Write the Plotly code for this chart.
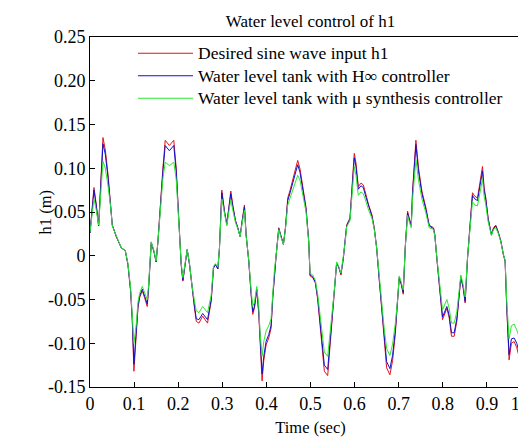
import plotly.graph_objects as go

# Time samples (s)
time_s = [
    0.000, 0.009, 0.0143, 0.0196, 0.0294, 0.0347, 0.0408, 0.0468, 0.0506, 0.0596,
    0.071, 0.080, 0.086, 0.092, 0.0959, 0.0996, 0.105, 0.1087, 0.1125, 0.1185,
    0.1238, 0.1298, 0.1329, 0.1389, 0.1449, 0.150, 0.154, 0.1578, 0.1653, 0.1706,
    0.180, 0.190, 0.1955, 0.2008, 0.2068, 0.2106, 0.2159, 0.2204, 0.2257, 0.231,
    0.237, 0.241, 0.247, 0.2555, 0.2665, 0.2748, 0.280, 0.2846, 0.290, 0.2936,
    0.2989, 0.305, 0.3102, 0.3148, 0.3193, 0.3238, 0.3299, 0.3351, 0.3404, 0.345,
    0.3502, 0.354, 0.360, 0.3653, 0.3691, 0.3729, 0.3782, 0.3827, 0.3857, 0.3902,
    0.394, 0.3993, 0.4053, 0.4106, 0.4144, 0.4182, 0.422, 0.428, 0.4333, 0.4386,
    0.4431, 0.4484, 0.4537, 0.4597, 0.4657, 0.471, 0.4763, 0.4823, 0.4899, 0.4959,
    0.499, 0.505, 0.511, 0.5163, 0.5216, 0.5261, 0.5314, 0.539, 0.5442, 0.5488,
    0.554, 0.5593, 0.5639, 0.5691, 0.5744, 0.579, 0.582, 0.5865, 0.5895, 0.594,
    0.5993, 0.6031, 0.6084, 0.6144, 0.6197, 0.6258, 0.6318, 0.6393, 0.6446, 0.650,
    0.656, 0.662, 0.6673, 0.6726, 0.6801, 0.6861, 0.6922, 0.6975, 0.7012, 0.7058,
    0.7103, 0.7148, 0.7201, 0.7239, 0.7284, 0.7314, 0.7352, 0.739, 0.745, 0.7526,
    0.7616, 0.7692, 0.779, 0.782, 0.7865, 0.7918, 0.7971, 0.7994, 0.8092, 0.8145,
    0.8197, 0.8258, 0.8318, 0.8371, 0.8409, 0.8462, 0.8507, 0.856, 0.862, 0.8673,
    0.8726, 0.8786, 0.8847, 0.890, 0.8937, 0.8975, 0.9028, 0.9103, 0.9149, 0.9201,
    0.9254, 0.9315, 0.9375, 0.9413, 0.945, 0.9503, 0.9556, 0.9617, 0.9677, 0.973,
    0.9783, 0.9843, 0.9918, 1.000,
]

# Desired sine wave input h1 (m)
desired_h1 = [
    0.026, 0.078, 0.058, 0.034, 0.135, 0.121, 0.093, 0.062, 0.035, 0.022,
    0.009, 0.006, -0.010, -0.040, -0.075, -0.132, -0.090, -0.060, -0.048, -0.040,
    -0.048, -0.058, -0.037, 0.015, 0.005, -0.007, 0.016, 0.047, 0.100, 0.132,
    0.126, 0.132, 0.100, 0.047, -0.010, -0.029, -0.006, 0.007, -0.010, -0.037,
    -0.060, -0.075, -0.077, -0.069, -0.077, -0.052, -0.014, -0.010, -0.015, 0.009,
    0.075, 0.051, 0.036, 0.055, 0.074, 0.058, 0.040, 0.032, 0.022, 0.040,
    0.058, 0.024, -0.006, -0.044, -0.067, -0.060, -0.039, -0.067, -0.105, -0.143,
    -0.120, -0.102, -0.094, -0.083, -0.048, -0.018, 0.000, 0.032, 0.022, 0.013,
    0.032, 0.066, 0.075, 0.087, 0.100, 0.109, 0.099, 0.081, 0.055, 0.017,
    -0.023, -0.025, -0.031, -0.050, -0.079, -0.105, -0.132, -0.137, -0.105, -0.075,
    -0.044, -0.008, -0.013, -0.022, -0.003, 0.017, 0.035, 0.040, 0.043, 0.077,
    0.117, 0.106, 0.079, 0.083, 0.081, 0.070, 0.058, 0.047, 0.032, 0.009,
    -0.029, -0.067, -0.098, -0.128, -0.136, -0.120, -0.090, -0.056, -0.025, -0.033,
    -0.044, 0.009, 0.051, 0.043, 0.035, 0.074, 0.110, 0.132, 0.100, 0.074,
    0.055, 0.035, 0.032, 0.024, -0.003, -0.033, -0.056, -0.073, -0.060, -0.071,
    -0.092, -0.092, -0.075, -0.044, -0.025, -0.037, -0.054, -0.003, 0.039, 0.072,
    0.068, 0.066, 0.085, 0.102, 0.078, 0.066, 0.043, 0.024, 0.032, 0.035,
    0.028, 0.017, 0.001, -0.006, -0.060, -0.119, -0.100, -0.098, -0.105, -0.115,
    -0.126, -0.083, -0.056, -0.033,
]

# Water level tank with H-infinity controller (m)
hinf_h1 = [
    0.026, 0.075, 0.057, 0.034, 0.128, 0.116, 0.090, 0.061, 0.035, 0.022,
    0.009, 0.006, -0.010, -0.039, -0.072, -0.124, -0.087, -0.058, -0.046, -0.038,
    -0.046, -0.055, -0.036, 0.015, 0.005, -0.007, 0.016, 0.046, 0.096, 0.126,
    0.120, 0.126, 0.096, 0.046, -0.010, -0.028, -0.006, 0.007, -0.010, -0.036,
    -0.058, -0.072, -0.073, -0.066, -0.073, -0.050, -0.014, -0.010, -0.015, 0.009,
    0.072, 0.050, 0.036, 0.054, 0.071, 0.056, 0.040, 0.032, 0.022, 0.039,
    0.056, 0.024, -0.006, -0.043, -0.064, -0.058, -0.038, -0.064, -0.100, -0.135,
    -0.115, -0.098, -0.090, -0.080, -0.047, -0.018, 0.000, 0.031, 0.022, 0.013,
    0.031, 0.063, 0.072, 0.083, 0.096, 0.104, 0.095, 0.078, 0.053, 0.017,
    -0.022, -0.024, -0.030, -0.048, -0.076, -0.100, -0.125, -0.130, -0.100, -0.072,
    -0.043, -0.008, -0.013, -0.021, -0.003, 0.017, 0.034, 0.039, 0.042, 0.074,
    0.112, 0.102, 0.076, 0.080, 0.078, 0.067, 0.056, 0.045, 0.031, 0.009,
    -0.028, -0.064, -0.094, -0.121, -0.129, -0.114, -0.086, -0.054, -0.025, -0.032,
    -0.042, 0.009, 0.049, 0.042, 0.034, 0.071, 0.105, 0.127, 0.096, 0.071,
    0.053, 0.034, 0.031, 0.023, -0.003, -0.032, -0.054, -0.070, -0.058, -0.068,
    -0.088, -0.088, -0.072, -0.043, -0.024, -0.036, -0.052, -0.003, 0.038, 0.069,
    0.065, 0.063, 0.081, 0.097, 0.075, 0.064, 0.042, 0.024, 0.031, 0.034,
    0.027, 0.017, 0.001, -0.006, -0.058, -0.113, -0.095, -0.094, -0.100, -0.110,
    -0.120, -0.080, -0.054, -0.032,
]

# Water level tank with mu synthesis controller (m)
mu_h1 = [
    0.027, 0.065, 0.052, 0.035, 0.108, 0.100, 0.080, 0.056, 0.034, 0.022,
    0.009, 0.006, -0.009, -0.036, -0.065, -0.100, -0.078, -0.053, -0.043, -0.035,
    -0.042, -0.050, -0.033, 0.016, 0.006, -0.006, 0.016, 0.043, 0.088, 0.107,
    0.103, 0.107, 0.087, 0.043, -0.008, -0.025, -0.005, 0.007, -0.009, -0.033,
    -0.052, -0.063, -0.065, -0.058, -0.065, -0.045, -0.012, -0.009, -0.013, 0.009,
    0.065, 0.046, 0.034, 0.050, 0.064, 0.052, 0.038, 0.031, 0.022, 0.037,
    0.052, 0.023, -0.005, -0.039, -0.058, -0.053, -0.035, -0.058, -0.088, -0.115,
    -0.098, -0.086, -0.080, -0.072, -0.043, -0.016, 0.000, 0.030, 0.021, 0.013,
    0.030, 0.058, 0.066, 0.075, 0.085, 0.092, 0.086, 0.071, 0.050, 0.016,
    -0.020, -0.022, -0.028, -0.044, -0.068, -0.090, -0.110, -0.115, -0.090, -0.066,
    -0.040, -0.007, -0.012, -0.020, -0.002, 0.017, 0.033, 0.038, 0.040, 0.068,
    0.102, 0.092, 0.069, 0.073, 0.071, 0.062, 0.052, 0.043, 0.030, 0.009,
    -0.026, -0.058, -0.084, -0.106, -0.114, -0.101, -0.078, -0.050, -0.023, -0.030,
    -0.039, 0.009, 0.046, 0.039, 0.032, 0.064, 0.093, 0.110, 0.086, 0.065,
    0.049, 0.032, 0.030, 0.022, -0.002, -0.029, -0.049, -0.062, -0.050, -0.060,
    -0.077, -0.077, -0.064, -0.039, -0.022, -0.033, -0.047, -0.002, 0.035, 0.062,
    0.058, 0.057, 0.073, 0.088, 0.068, 0.058, 0.039, 0.023, 0.030, 0.032,
    0.026, 0.016, 0.001, -0.005, -0.052, -0.095, -0.080, -0.078, -0.085, -0.093,
    -0.100, -0.070, -0.048, -0.030,
]

series_names = [
    "Desired sine wave input h1",
    "Water level tank with H\u221e controller",
    "Water level tank with \u03bc synthesis controller",
]

x_tick_vals = [0, 0.1, 0.2, 0.3, 0.4, 0.5, 0.6, 0.7, 0.8, 0.9, 1.0]
x_tick_text = ["0", "0.1", "0.2", "0.3", "0.4", "0.5", "0.6", "0.7", "0.8", "0.9",
               "1.0\u00a0\u00a0\u00a0\u00a0"]
y_tick_vals = [0.25, 0.20, 0.15, 0.10, 0.05, 0, -0.05, -0.10, -0.15]
y_tick_text = ["0.25", "0.20", "0.15", "0.10", "0.05", "0", "-0.05", "-0.10", "-0.15"]

FONT = "Liberation Serif"


def legend_label(text):
    # larger glyphs inside a legend whose row pitch follows a smaller base font
    return '<span style="font-size:17.5px">' + text + "</span>"


fig = go.Figure()
fig.add_trace(go.Scatter(x=time_s, y=desired_h1, mode="lines", name=legend_label(series_names[0]),
                         line=dict(color="#e0141a", width=1)))
fig.add_trace(go.Scatter(x=time_s, y=hinf_h1, mode="lines", name=legend_label(series_names[1]),
                         line=dict(color="#1010d0", width=1)))
fig.add_trace(go.Scatter(x=time_s, y=mu_h1, mode="lines", name=legend_label(series_names[2]),
                         line=dict(color="#2ee82e", width=1)))

axis_common = dict(
    showline=True, linecolor="black", linewidth=1, mirror="ticks",
    ticks="inside", ticklen=5, tickcolor="black", showgrid=False, zeroline=False,
    tickfont=dict(family=FONT, size=18, color="black"),
    automargin=True,
)

fig.update_xaxes(range=[0, 1], tickvals=x_tick_vals, ticktext=x_tick_text,
                 ticklabeloverflow="allow",
                 title=dict(text="Time (sec)", font=dict(family=FONT, size=16.5, color="black"),
                            standoff=8),
                 **axis_common)
fig.update_yaxes(range=[-0.15, 0.25], tickvals=y_tick_vals, ticktext=y_tick_text,
                 **axis_common)

# y-axis label placed close to the tick labels, as in the reference
fig.add_annotation(text="h1 (m)", textangle=-90, xref="paper", yref="paper",
                   x=-0.101, y=0.5, xanchor="center", yanchor="middle", showarrow=False,
                   font=dict(family=FONT, size=16.5, color="black"))

fig.add_shape(type="line", xref="paper", yref="y", x0=1, x1=1, y0=0.148, y1=0.226,
              line=dict(color="black", width=2.5))

fig.update_layout(
    width=526, height=438,
    margin=dict(l=82, r=3, t=29, b=59, autoexpand=False),
    plot_bgcolor="white", paper_bgcolor="white",
    font=dict(family=FONT, color="black"),
    title=dict(text="Water level control of h1", x=0.5, xref="paper", xanchor="center",
               y=0.970, yref="container", yanchor="middle",
               font=dict(family=FONT, size=17, color="black")),
    showlegend=True,
    legend=dict(x=0.0975, xanchor="left", y=1.0, yanchor="top",
                bgcolor="white", borderwidth=0,
                font=dict(family=FONT, size=15, color="black"),
                tracegroupgap=0, itemwidth=55),
)

fig.write_html("out.html")
